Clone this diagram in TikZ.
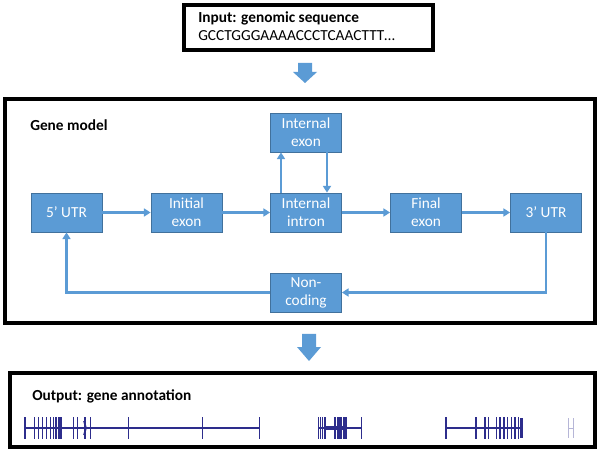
\documentclass[tikz,border=0pt]{standalone}
\usepackage{fontspec}
\setmainfont{Carlito}
\usetikzlibrary{arrows.meta}
\definecolor{boxblue}{RGB}{91,155,213}
\definecolor{boxedge}{RGB}{65,113,156}
\definecolor{genenavy}{RGB}{45,45,140}
\tikzset{
  genebox/.style={draw=boxedge, line width=0.6pt, fill=boxblue, text=white, align=center,
    minimum width=53.25pt, minimum height=29.25pt, inner sep=1pt,
    font=\fontsize{11.5}{13.5}\selectfont},
  flow/.style={draw=boxblue, line width=1.7pt, -{Triangle[length=5pt,width=6pt]}},
  frame/.style={draw=black, line width=3pt},
  heading/.style={anchor=west, inner sep=0pt, font=\fontsize{11.5}{13.5}\selectfont\bfseries},
  track/.style={draw=genenavy, line width=1.6pt},
  exon/.style={draw=genenavy, line width=0.8pt}
}
\begin{document}
\begin{tikzpicture}[x=0.75pt,y=-0.75pt]
        \useasboundingbox (0,0) rectangle (601,453);
        % frames
        \draw[frame] (183.5,5) rectangle (433,50.5);
        \draw[frame] (5,99) rectangle (595,323);
        \draw[frame] (10,373) rectangle (595,447);
        % input
        \node[heading] (intitle) at (198,18) {Input: genomic sequence};
        \node[anchor=west, inner sep=0pt, font=\fontsize{11.5}{13.5}\selectfont] (inseq) at (198,36) {GCCTGGGAAAACCCTCAACTTT\dots};
        % block arrows
        \foreach \cx/\ty/\hy/\by in {305/63/72/83, 309/334/347/361}
        \fill[boxblue] (\cx-7,\ty) -- (\cx+7,\ty) -- (\cx+7,\hy) -- (\cx+12,\hy) -- (\cx,\by)
            -- (\cx-12,\hy) -- (\cx-7,\hy) -- cycle;

        % gene model
        \node[heading] (modeltitle) at (30,125) {Gene model};
        \node[genebox] (utr5) at (66.5,212.5) {5’ UTR};
        \node[genebox] (initial) at (186.5,212.5) {Initial\\exon};
        \node[genebox] (intron) at (306,212.5) {Internal\\intron};
        \node[genebox] (internal) at (306,132.5) {Internal\\exon};
        \node[genebox] (final) at (426,212.5) {Final\\exon};
        \node[genebox] (utr3) at (546,212.5) {3’ UTR};
        \node[genebox] (noncoding) at (306,292.5) {Non-\\coding};

        \draw[flow] (utr5) -- (initial);
        \draw[flow] (initial) -- (intron);
        \draw[flow] (intron) -- (final);
        \draw[flow] (final) -- (utr3);
        \draw[flow] (intron.north -| 281,0) -- (internal.south -| 281,0);
        \draw[flow] (internal.south -| 327,0) -- (intron.north -| 327,0);
        \draw[flow] (utr3.south) |- (noncoding.east);
        \draw[flow] (noncoding.west) -| (utr5.south);

        % output
        \node[heading] (outtitle) at (32,396) {Output: gene annotation};
        \draw[track] (25,428) -- (259,428);
        \foreach \x in {25,34.3,38.3,42.7,46.7,50.7,53.3,56,58.3,60,61.7,73.3,77.3,85,90.7,128.3,202.7,259.3}
        \draw[exon] (\x,417) -- (\x,439);
        \draw[exon, line width=1.2pt] (84,421) -- (86,428) -- (84,435);
        \draw[track] (318,428) -- (362,428);
        \draw[track, line width=3pt] (325,428) -- (347,428);
        \foreach \x in {318.3,320.7,322.7,325,335,343.3,345,346.7,361.7}
        \draw[exon] (\x,417) -- (\x,439);
        \fill[genenavy] (337.3,417) rectangle (341.7,439);
        \draw[track] (446,428) -- (521,428);
        \foreach \x in {446,476,485,488.3,496.7,500,504,507.3,511.7,515,518.3}
        \draw[exon] (\x,417) -- (\x,439);
        \fill[genenavy] (519.5,418) rectangle (522.7,438);
        \draw[genenavy!35, line width=0.6pt] (568.5,418) -- (568.5,438) (573.5,418) -- (573.5,438) (568.5,428) -- (573.5,428);
    \end{tikzpicture}
\end{document}
